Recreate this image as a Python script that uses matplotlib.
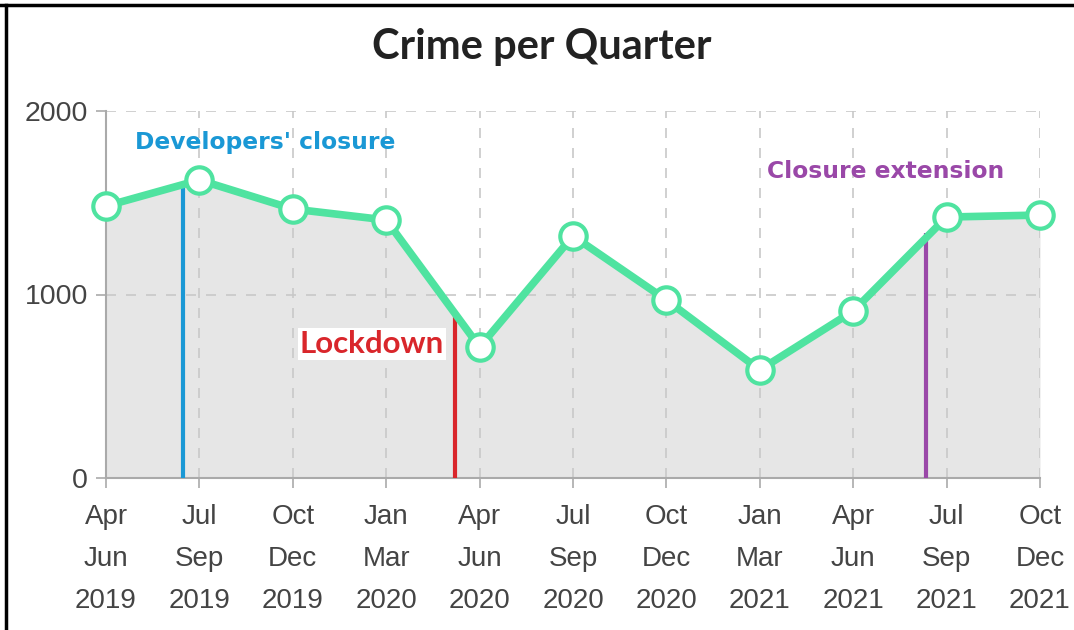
import matplotlib
matplotlib.use("Agg")
import matplotlib.pyplot as plt
from matplotlib.lines import Line2D

# quarterly crime counts
quarters = ["Apr\nJun\n2019", "Jul\nSep\n2019", "Oct\nDec\n2019", "Jan\nMar\n2020",
            "Apr\nJun\n2020", "Jul\nSep\n2020", "Oct\nDec\n2020", "Jan\nMar\n2021",
            "Apr\nJun\n2021", "Jul\nSep\n2021", "Oct\nDec\n2021"]
crimes = [1482, 1624, 1466, 1406, 714, 1319, 970, 589, 910, 1422, 1433]

# event markers: (label, x position in quarter units, line height)
events = ["Developers' closure", "Lockdown", "Closure extension"]
event_x = [0.82, 3.74, 8.78]
event_top = [1600, 900, 1335]

GREEN = "#4fe3a0"
FILL = "#e6e6e6"
GRID = "#c8c8c8"
AXIS = "#aaaaaa"
TICK = "#444444"
BLUE = "#1a98d5"
RED = "#d9262b"
PURPLE = "#9a48a8"

fig = plt.figure(figsize=(10.74, 6.3), dpi=100)
ax = fig.add_axes([106 / 1074, 1 - 478 / 630, 934 / 1074, 367 / 630])

x = list(range(len(crimes)))
ax.fill_between(x, crimes, 0, color=FILL, lw=0, zorder=1)

for xi in x:
    ax.axvline(xi, color=GRID, lw=1.2, ls=(0, (6, 6)), zorder=2)
for yv in (1000, 2000):
    ax.axhline(yv, color=GRID, lw=1.2, ls=(0, (6, 6)), zorder=2)

ax.vlines(event_x[0], 0, event_top[0], color=BLUE, lw=3, zorder=3)
ax.vlines(event_x[1], 0, event_top[1], color=RED, lw=3, zorder=3)
ax.vlines(event_x[2], 0, event_top[2], color=PURPLE, lw=3, zorder=3)

ax.plot(x, crimes, color=GREEN, lw=5.5, marker="o", ms=19, mfc="white",
        mec=GREEN, mew=3, zorder=5, clip_on=False, solid_capstyle="round")

ax.text(1.70, 1826, events[0], color=BLUE, ha="center", va="center",
        fontsize=16.8, fontweight="bold", family="DejaVu Sans", zorder=6)
ax.text(3.62, 730, events[1], color=RED, ha="right", va="center",
        fontsize=22.5, fontweight="bold", family="Lato", zorder=6,
        bbox=dict(facecolor="white", edgecolor="none", pad=1.5))
ax.text(8.35, 1668, events[2], color=PURPLE, ha="center", va="center",
        fontsize=16.8, fontweight="bold", family="DejaVu Sans", zorder=6)

ax.set_xlim(0, 10)
ax.set_ylim(0, 2000)
ax.set_xticks(x)
ax.set_xticklabels(quarters, family="Liberation Sans", fontsize=20,
                   color=TICK, linespacing=1.8)
ax.set_yticks([0, 1000, 2000])
ax.set_yticklabels(["0", "1000", "2000"], family="Liberation Sans",
                   fontsize=20.5, color=TICK)
ax.tick_params(axis="both", length=7, color=AXIS, width=1.2)
ax.tick_params(axis="x", pad=12)
ax.tick_params(axis="y", pad=6)

for side in ("top", "right"):
    ax.spines[side].set_visible(False)
for side in ("left", "bottom"):
    ax.spines[side].set_color(AXIS)
    ax.spines[side].set_linewidth(1.5)

fig.text(542 / 1074, 1 - 47 / 630, "Crime per Quarter", ha="center", va="center",
         fontsize=30, fontweight="bold", family="Lato", color="#222222")

# frame edges
fig.add_artist(Line2D([0, 1], [1 - 5 / 630] * 2, color="black", lw=2.5))
fig.add_artist(Line2D([6 / 1074] * 2, [0, 1 - 5 / 630], color="black", lw=2.5))

fig.savefig("out.png", dpi=100)
